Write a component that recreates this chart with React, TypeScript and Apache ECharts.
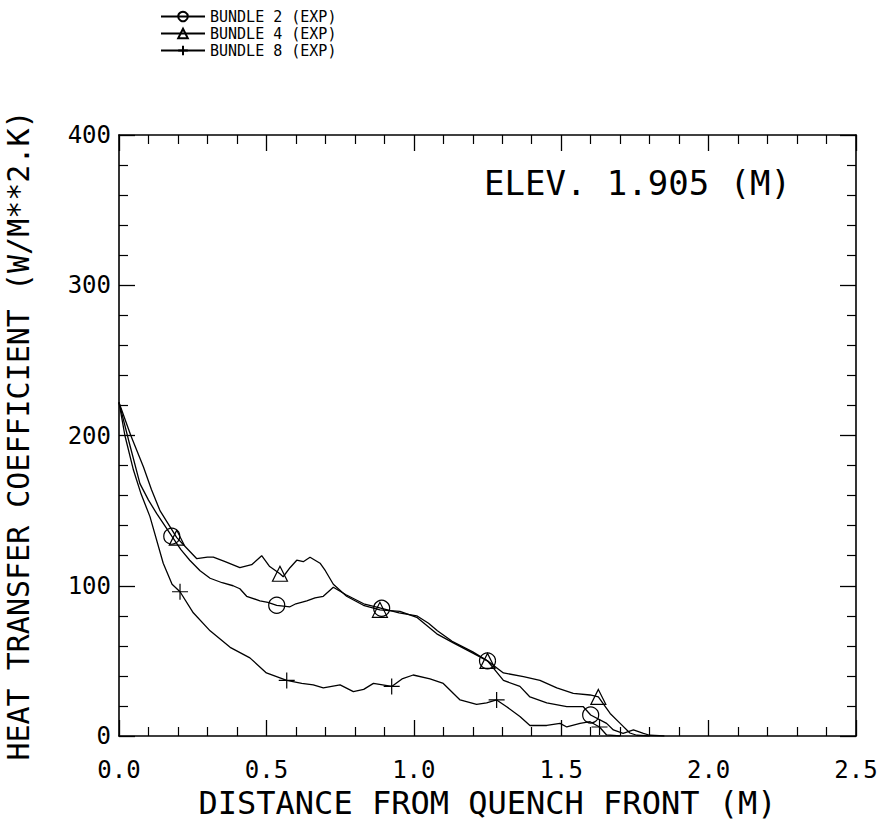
import React, { useEffect, useRef } from "react";
import * as echarts from "echarts";

const seriesNames = ["BUNDLE 2 (EXP)", "BUNDLE 4 (EXP)", "BUNDLE 8 (EXP)"];
const xTickLabels = ["0.0", "0.5", "1.0", "1.5", "2.0", "2.5"];
const yTickLabels = ["0", "100", "200", "300", "400"];

// [distance (m), htc]
const bundle2: [number, number][] = [
  [0, 222], [0.035, 195], [0.071, 168], [0.1, 157], [0.128, 148], [0.179, 133], [0.21, 124],
  [0.24, 117], [0.275, 110], [0.309, 105], [0.35, 102], [0.387, 100], [0.41, 98], [0.433, 93],
  [0.478, 90], [0.505, 89], [0.535, 87], [0.58, 86], [0.6, 88], [0.637, 90], [0.665, 92],
  [0.693, 93], [0.727, 99], [0.77, 94], [0.83, 88], [0.891, 85], [0.95, 82], [1.01, 80],
  [1.05, 75], [1.08, 70], [1.13, 63], [1.2, 56], [1.25, 50], [1.304, 37], [1.36, 33],
  [1.394, 26], [1.451, 22], [1.519, 19.5], [1.575, 19.5], [1.6, 14], [1.654, 8.4],
  [1.677, 4], [1.71, 1.8], [1.745, 4], [1.779, 1.8], [1.8, 0.5], [1.85, 0],
];
const bundle4: [number, number][] = [
  [0, 222], [0.04, 200], [0.083, 179], [0.11, 164], [0.139, 150], [0.196, 132], [0.23, 125],
  [0.264, 118], [0.3, 119], [0.32, 119], [0.36, 116], [0.41, 112], [0.45, 114], [0.484, 120],
  [0.51, 113], [0.546, 108], [0.557, 106], [0.58, 112], [0.603, 117], [0.625, 116],
  [0.648, 119], [0.682, 115], [0.7, 110], [0.727, 101], [0.772, 93], [0.829, 87], [0.885, 84],
  [0.953, 83], [1.01, 79], [1.078, 68], [1.134, 62], [1.202, 55], [1.25, 50], [1.304, 42],
  [1.372, 39.5], [1.428, 37], [1.485, 32], [1.541, 28.4], [1.598, 27.3], [1.626, 26],
  [1.666, 15], [1.7, 8.4], [1.733, 2], [1.756, 0.5], [1.8, 0],
];
const bundle8: [number, number][] = [
  [0, 222], [0.02, 200], [0.049, 177], [0.075, 161], [0.105, 146], [0.15, 115], [0.18, 101],
  [0.207, 96], [0.252, 82], [0.309, 70], [0.377, 59], [0.444, 52], [0.5, 42], [0.569, 37],
  [0.62, 35], [0.659, 34], [0.693, 32], [0.75, 34], [0.795, 29.5], [0.83, 31], [0.863, 35],
  [0.925, 33], [0.96, 38], [0.998, 40.6], [1.055, 38], [1.1, 35], [1.157, 24], [1.213, 21],
  [1.247, 22], [1.281, 24], [1.315, 19.5], [1.36, 13], [1.394, 7], [1.451, 7], [1.496, 8.4],
  [1.519, 6], [1.564, 8.4], [1.598, 9.5], [1.63, 6], [1.654, 0.7], [1.7, 0],
];
// indices of points carrying a marker
const bundle2Markers = [5, 16, 25, 32, 39];
const bundle4Markers = [5, 15, 26, 32, 39];
const bundle8Markers = [7, 13, 21, 29, 38];

const PLUS = "path://M5,0L5,10M0,5L10,5";

export default function App() {
  const ref = useRef<HTMLDivElement>(null);
  useEffect(() => {
    document.body.style.margin = "0";
    const chart = echarts.init(ref.current!, null, { renderer: "svg" });
    const font = "DejaVu Sans Mono";
    const mk = (
      name: string,
      pts: [number, number][],
      marks: number[],
      symbol: string,
      size: number
    ) => ({
      name,
      type: "line",
      symbol,
      symbolSize: size,
      showSymbol: true,
      showAllSymbol: true,
      xAxisIndex: 0,
      yAxisIndex: 0,
      lineStyle: { color: "#000", width: 1.3 },
      itemStyle: { color: "rgba(0,0,0,0)", borderColor: "#000", borderWidth: 1.2 },
      data: pts.map((p, i) =>
        marks.includes(i) ? { value: p } : { value: p, symbol: "none" }
      ),
      z: 3,
    });
    const axisCommon = {
      type: "value",
      axisLine: { show: true, onZero: false, lineStyle: { color: "#000", width: 1.6 } },
      axisTick: { show: true, inside: true, length: 16, lineStyle: { color: "#000", width: 1.3 } },
      minorTick: { show: true, splitNumber: 5, length: 9, lineStyle: { color: "#000", width: 1.2 } },
      splitLine: { show: false },
      minorSplitLine: { show: false },
    };
    chart.setOption({
      animation: false,
      backgroundColor: "#fff",
      textStyle: { fontFamily: font },
      grid: { left: 119, top: 135, width: 737, height: 601, outerBoundsMode: "none", containLabel: false },
      legend: {
        orient: "vertical",
        left: 155,
        top: 3,
        itemGap: 0,
        itemWidth: 44,
        itemHeight: 12,
        data: seriesNames,
        textStyle: { fontFamily: font, fontSize: 15, lineHeight: 17, color: "#000" },
      },
      xAxis: [
        {
          ...axisCommon,
          min: 0,
          max: 2.5,
          interval: 0.5,
          position: "bottom",
          name: "DISTANCE FROM QUENCH FRONT (M)",
          nameLocation: "middle",
          nameGap: 50,
          nameTextStyle: { fontFamily: font, fontSize: 32, color: "#000" },
          axisLabel: {
            margin: 22,
            fontFamily: font,
            fontSize: 24,
            color: "#000",
            formatter: (v: number) => xTickLabels[Math.round(v / 0.5)] ?? "",
          },
        },
        {
          ...axisCommon,
          min: 0,
          max: 2.5,
          interval: 0.5,
          position: "top",
          axisLabel: { show: false },
        },
      ],
      yAxis: [
        {
          ...axisCommon,
          min: 0,
          max: 400,
          interval: 100,
          position: "left",
          name: "HEAT TRANSFER COEFFICIENT (W/M**2.K)",
          nameLocation: "middle",
          nameRotate: 90,
          nameGap: 86,
          nameTextStyle: { fontFamily: font, fontSize: 30, color: "#000" },
          axisLabel: {
            margin: 8,
            fontFamily: font,
            fontSize: 24,
            color: "#000",
            formatter: (v: number) => yTickLabels[Math.round(v / 100)] ?? "",
          },
        },
        {
          ...axisCommon,
          min: 0,
          max: 400,
          interval: 100,
          position: "right",
          axisLabel: { show: false },
        },
      ],
      graphic: [
        {
          type: "text",
          left: 484,
          top: 166,
          style: { text: "ELEV. 1.905 (M)", font: `34px "${font}"`, fill: "#000" },
        },
      ],
      series: [
        mk(seriesNames[0], bundle2, bundle2Markers, "circle", 16),
        mk(seriesNames[1], bundle4, bundle4Markers, "triangle", 15),
        mk(seriesNames[2], bundle8, bundle8Markers, PLUS, 16),
      ],
    });
    return () => chart.dispose();
  }, []);
  return (
    <div
      ref={ref}
      style={{ position: "absolute", left: 0, top: 0, width: 885, height: 821 }}
    />
  );
}
